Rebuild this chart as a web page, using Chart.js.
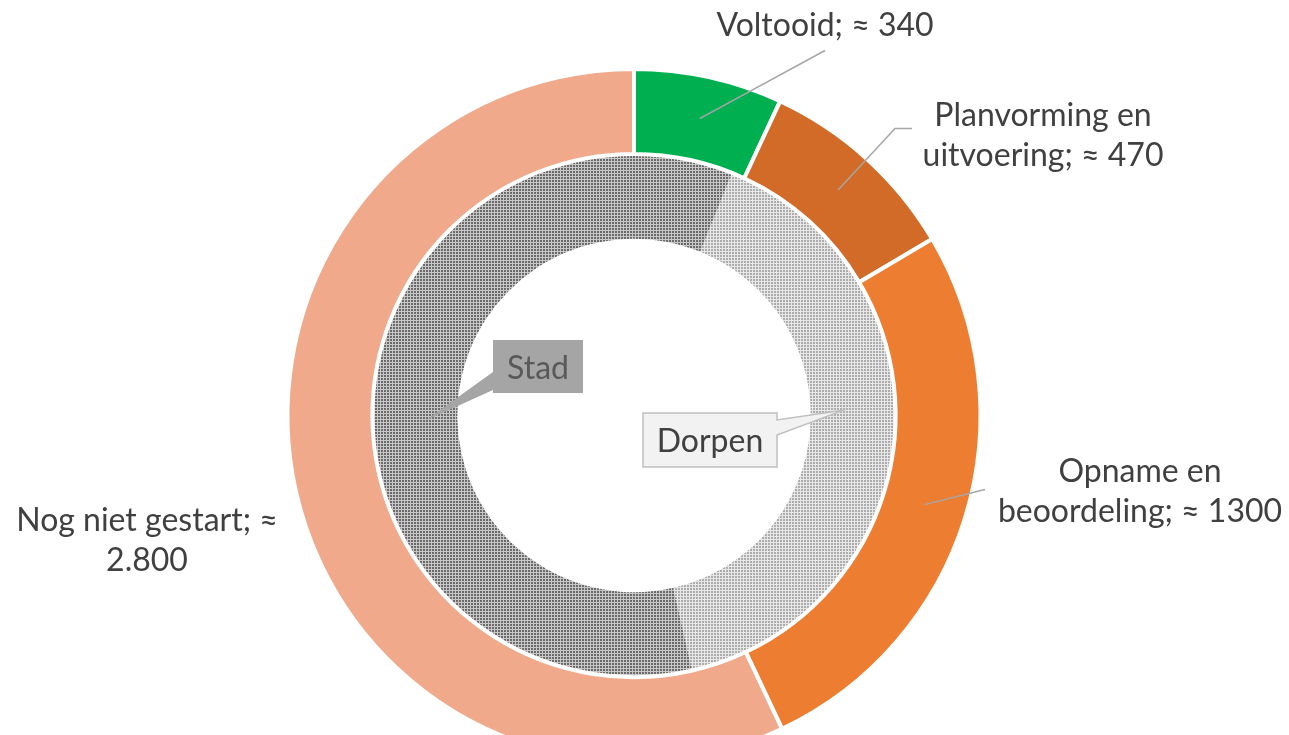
<!DOCTYPE html>
<html lang="nl">
<head>
<meta charset="UTF-8">
<meta name="viewport" content="width=device-width, initial-scale=1.0">
<title>Voortgang</title>
<style>
  html, body { margin: 0; padding: 0; background: #fff; overflow: hidden; }
  #wrap { position: relative; width: 1289px; height: 830px; }
</style>
</head>
<body>
<div id="wrap"><canvas id="mychart"></canvas></div>

<script src="https://cdn.jsdelivr.net/npm/chart.js@4.4.1/dist/chart.umd.min.js"></script>
<script>
  // buitenste ring: fases
  var phaseLabels = ['Voltooid', 'Planvorming en uitvoering', 'Opname en beoordeling', 'Nog niet gestart'];
  var phaseValues = [340, 470, 1300, 2800];
  var phaseValueText = ['340', '470', '1300', '2.800'];

  // binnenste ring: dorpen / stad (geschat uit de figuur)
  var areaLabels = ['Dorpen', 'Stad'];
  var areaValues = [1980, 2930];

  var phaseColors = ['#00b050', '#d26b28', '#ed7d31', '#f0a98b'];
  var FONT = '32px Lato, "Open Sans", sans-serif';
  var TEXT = '#404040';
  var LEADER = '#a6a6a6';
  var LINE_H = 40;

  // positie tekstblokken t.o.v. middelpunt
  var phaseLayout = [
    { dx: 191, dy: -390, wrap: 400, leader: [[191, -365]] },
    { dx: 409, dy: -280, wrap: 265, leader: [[261, -287], [278, -287]] },
    { dx: 506, dy: 76, wrap: 310, leader: [[351, 74]] },
    { dx: -487, dy: 125, wrap: 280, leader: null }
  ];
  var areaLayout = [
    { x: 643, y: 413, w: 134, h: 54, side: 'right', t0: 7, t1: 22, fill: '#f2f2f2', stroke: '#bfbfbf', color: TEXT },
    { x: 493, y: 340, w: 90, h: 53, side: 'left', t0: 32, t1: 50, fill: '#a5a5a5', stroke: null, color: '#595959' }
  ];
  var TIP_SHIFT = -6 * Math.PI / 180;
  var TIP_R = 209;

  function makePattern(ctx, bg, dot) {
    var tile = document.createElement('canvas');
    tile.width = 3;
    tile.height = 3;
    var t = tile.getContext('2d');
    t.fillStyle = bg;
    t.fillRect(0, 0, 3, 3);
    t.fillStyle = dot;
    t.fillRect(0, 0, 2, 2);
    return ctx.createPattern(tile, 'repeat');
  }

  function wrapText(ctx, text, maxW) {
    var words = text.split(' ');
    var lines = [];
    var cur = '';
    words.forEach(function (w) {
      var test = cur ? cur + ' ' + w : w;
      if (cur && ctx.measureText(test).width > maxW) {
        lines.push(cur);
        cur = w;
      } else {
        cur = test;
      }
    });
    if (cur) lines.push(cur);
    return lines;
  }

  var labelPlugin = {
    id: 'sliceLabels',
    afterDatasetsDraw: function (chart) {
      var ctx = chart.ctx;
      var outer = chart.getDatasetMeta(0);
      var inner = chart.getDatasetMeta(1);
      var cx = outer.data[0].x;
      var cy = outer.data[0].y;

      ctx.save();
      ctx.font = FONT;
      ctx.textAlign = 'center';
      ctx.textBaseline = 'middle';

      // buitenste labels
      outer.data.forEach(function (arc, i) {
        var lay = phaseLayout[i];
        if (lay.leader) {
          var p = arc.getCenterPoint();
          ctx.strokeStyle = LEADER;
          ctx.lineWidth = 1.5;
          ctx.beginPath();
          ctx.moveTo(p.x, p.y);
          lay.leader.forEach(function (pt) { ctx.lineTo(cx + pt[0], cy + pt[1]); });
          ctx.stroke();
        }
        var text = phaseLabels[i] + '; \u2248 ' + phaseValueText[i];
        var lines = wrapText(ctx, text, lay.wrap);
        var y0 = cy + lay.dy - (lines.length - 1) * LINE_H / 2;
        ctx.fillStyle = TEXT;
        lines.forEach(function (ln, k) {
          ctx.fillText(ln, cx + lay.dx, y0 + k * LINE_H);
        });
      });

      // binnenste labels als callouts
      inner.data.forEach(function (arc, i) {
        var b = areaLayout[i];
        var mid = (arc.startAngle + arc.endAngle) / 2 + TIP_SHIFT;
        var tx = arc.x + Math.cos(mid) * TIP_R;
        var ty = arc.y + Math.sin(mid) * TIP_R;
        var L = b.x, T = b.y, R = b.x + b.w, B = b.y + b.h;

        ctx.beginPath();
        if (b.side === 'right') {
          ctx.moveTo(L, T);
          ctx.lineTo(R, T);
          ctx.lineTo(R, T + b.t0);
          ctx.lineTo(tx, ty);
          ctx.lineTo(R, T + b.t1);
          ctx.lineTo(R, B);
          ctx.lineTo(L, B);
        } else {
          ctx.moveTo(L, T);
          ctx.lineTo(R, T);
          ctx.lineTo(R, B);
          ctx.lineTo(L, B);
          ctx.lineTo(L, T + b.t1);
          ctx.lineTo(tx, ty);
          ctx.lineTo(L, T + b.t0);
        }
        ctx.closePath();
        ctx.fillStyle = b.fill;
        ctx.fill();
        if (b.stroke) {
          ctx.strokeStyle = b.stroke;
          ctx.lineWidth = 1.5;
          ctx.stroke();
        }
        ctx.fillStyle = b.color;
        ctx.fillText(areaLabels[i], L + b.w / 2, T + b.h / 2 + 2);
      });

      ctx.restore();
    }
  };

  var canvas = document.getElementById('mychart');
  var c2d = canvas.getContext('2d');
  var areaPatterns = [
    makePattern(c2d, '#e8e8e8', '#acacac'),
    makePattern(c2d, '#c8c8c8', '#6a6a6a')
  ];

  var mychart = new Chart(canvas, {
    type: 'doughnut',
    data: {
      labels: phaseLabels,
      datasets: [{
        label: 'Fase',
        data: phaseValues,
        backgroundColor: phaseColors,
        borderColor: '#ffffff',
        borderWidth: 4,
        hoverOffset: 0
      }, {
        label: 'Gebied',
        data: areaValues,
        backgroundColor: areaPatterns,
        borderColor: '#ffffff',
        borderWidth: 0,
        hoverOffset: 0,
        rotation: 22
      }]
    },
    options: {
      responsive: true,
      maintainAspectRatio: false,
      animation: false,
      cutout: '51%',
      layout: { padding: { top: 67, bottom: 66, left: 0, right: 21 } },
      plugins: {
        legend: { display: false },
        tooltip: { enabled: false }
      }
    },
    plugins: [labelPlugin]
  });
</script>
</body>
</html>
